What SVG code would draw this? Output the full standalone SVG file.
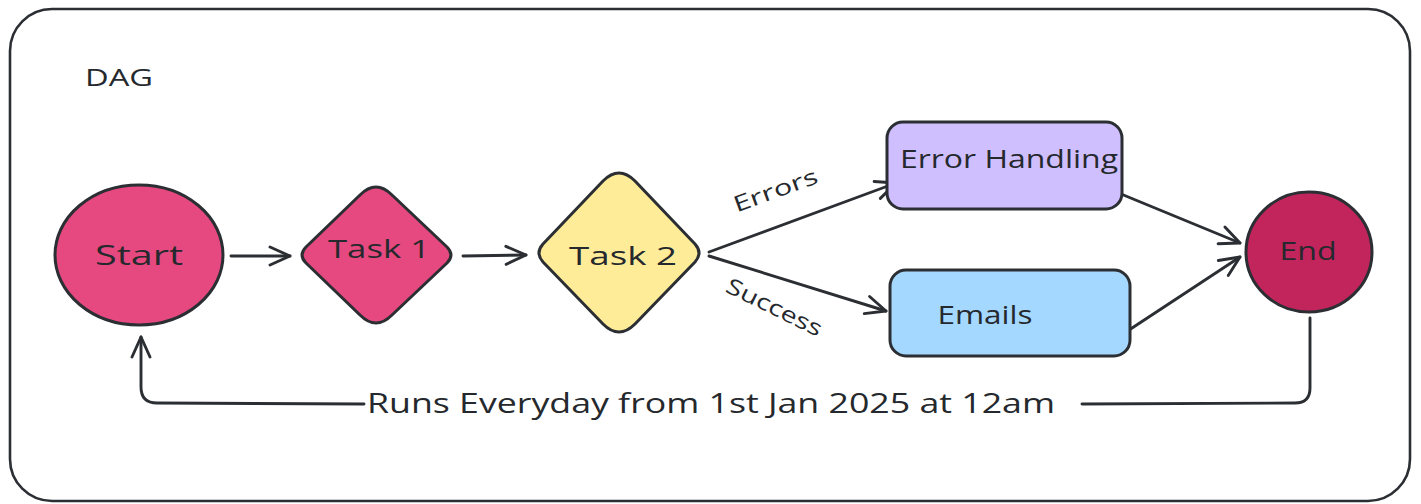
<svg xmlns="http://www.w3.org/2000/svg" width="1421" height="504" viewBox="0 0 1421 504">
<defs>
<marker id="arr" markerUnits="userSpaceOnUse" markerWidth="26" markerHeight="26" viewBox="0 0 26 26" refX="23" refY="13" orient="auto">
<path d="M3,4 L23,13 L3,22" fill="none" stroke="#2b2f33" stroke-width="2.9" stroke-linecap="round" stroke-linejoin="round"/>
</marker>
</defs>
<style>
.sh{stroke:#2b2f33;stroke-width:3;stroke-linejoin:round}
.ln{fill:none;stroke:#2b2f33;stroke-width:2.9;stroke-linecap:round}
.t{font-family:"Open Sans","Liberation Sans",sans-serif;fill:#25292d;text-anchor:middle;dominant-baseline:central}
</style>
<rect x="0" y="0" width="1421" height="504" fill="#ffffff"/>
<g id="container">
<rect x="10" y="9" width="1400" height="492" rx="42" fill="#ffffff" stroke="#2b2f33" stroke-width="2.6"/>
<text class="t" x="119" y="76" font-size="24" textLength="68" lengthAdjust="spacingAndGlyphs">DAG</text>
</g>
<g id="connectors">
<path class="ln" d="M231,256 L290,256" marker-end="url(#arr)"/>
<path class="ln" d="M463,256 L526,255" marker-end="url(#arr)"/>
<path class="ln" d="M709,252 L896,183" marker-end="url(#arr)" stroke-width="3.4"/>
<path class="ln" d="M709,256 L886,311" marker-end="url(#arr)"/>
<path class="ln" d="M1121,194 L1240,243" marker-end="url(#arr)"/>
<path class="ln" d="M1126,332 L1240,257" marker-end="url(#arr)"/>
<path class="ln" d="M1310,318 L1310,388 Q1310,403 1295,403 L1082,404"/>
<path class="ln" d="M364,404 L157,403 Q141,403 141,387 L141,337" marker-end="url(#arr)"/>
<text class="t" x="775" y="189" font-size="22" textLength="88" lengthAdjust="spacingAndGlyphs" transform="rotate(-20 775 189)">Errors</text>
<text class="t" x="775" y="306" font-size="22" textLength="104" lengthAdjust="spacingAndGlyphs" transform="rotate(26 775 306)">Success</text>
<text class="t" x="711" y="402" font-size="28" textLength="688" lengthAdjust="spacingAndGlyphs">Runs Everyday from 1st Jan 2025 at 12am</text>
</g>
<g id="start">
<ellipse class="sh" cx="139" cy="255" rx="84" ry="70" fill="#e64980"/>
<text class="t" x="139" y="254" font-size="27" textLength="88" lengthAdjust="spacingAndGlyphs">Start</text>
</g>
<g id="task1">
<path class="sh" d="M376,187 Q384,187 392,195 L447,247 Q455,255 447,263 L392,315 Q384,323 376,323 Q368,323 360,315 L306,263 Q298,255 306,247 L360,195 Q368,187 376,187 Z" fill="#e64980"/>
<text class="t" x="379" y="248" font-size="26" textLength="102" lengthAdjust="spacingAndGlyphs">Task 1</text>
</g>
<g id="task2">
<path class="sh" d="M619,173 Q627,173 635,181 L695,244 Q703,253 695,262 L635,324 Q627,332 619,332 Q611,332 603,324 L543,262 Q535,253 543,244 L603,181 Q611,173 619,173 Z" fill="#ffec99"/>
<text class="t" x="623" y="255" font-size="26" textLength="108" lengthAdjust="spacingAndGlyphs">Task 2</text>
</g>
<g id="error-handling">
<rect class="sh" x="887" y="122" width="235" height="87" rx="16" fill="#d0bfff"/>
<text class="t" x="1009" y="158" font-size="25" textLength="218" lengthAdjust="spacingAndGlyphs">Error Handling</text>
</g>
<g id="emails">
<rect class="sh" x="890" y="270" width="240" height="86" rx="16" fill="#a5d8ff"/>
<text class="t" x="985" y="314" font-size="26" textLength="95" lengthAdjust="spacingAndGlyphs">Emails</text>
</g>
<g id="end">
<ellipse class="sh" cx="1309" cy="252" rx="63" ry="60" fill="#c2255c"/>
<text class="t" x="1308" y="250" font-size="25" textLength="57" lengthAdjust="spacingAndGlyphs">End</text>
</g>
</svg>
